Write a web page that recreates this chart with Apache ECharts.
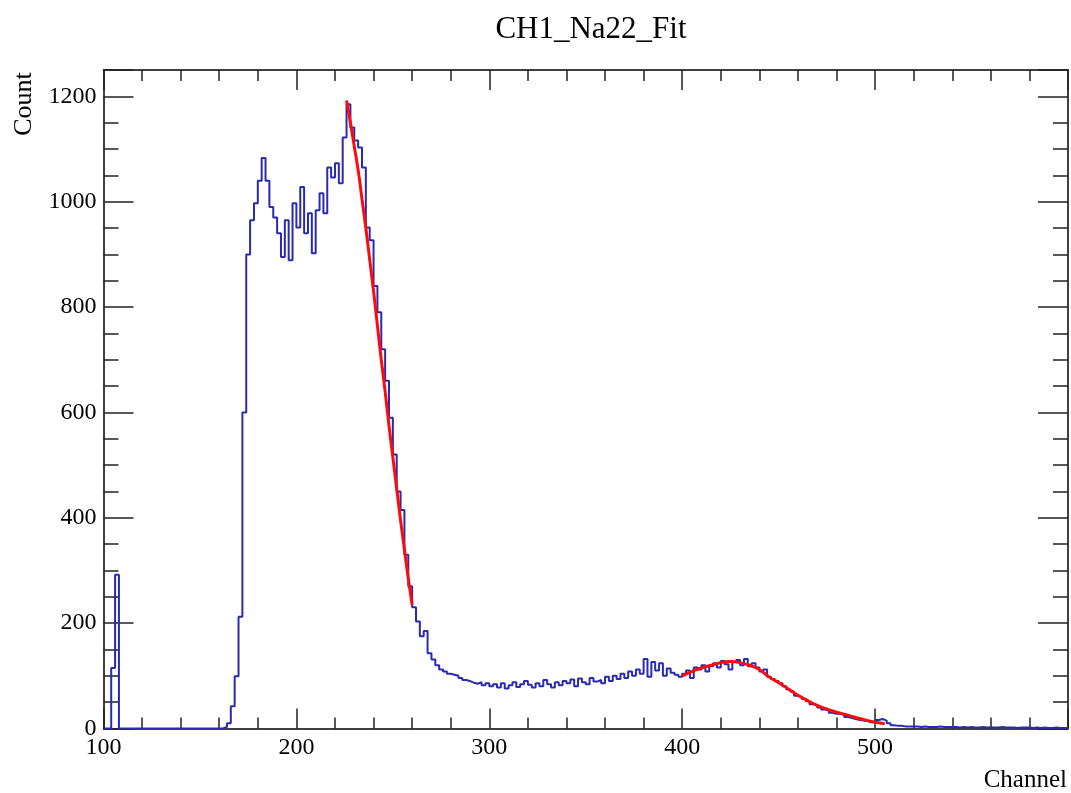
<!DOCTYPE html>
<html><head><meta charset="utf-8">
<script src="https://cdn.jsdelivr.net/npm/echarts@6/dist/echarts.min.js"></script>
<style>html,body{margin:0;padding:0;background:#fff}#c{width:1071px;height:793px}</style>
</head><body><div id="c"></div>
<script>
const titleText = 'CH1_Na22_Fit';
const xName = 'Channel';
const yName = 'Count';
const binStart = 100;
const binWidth = 2;
// histogram counts, one per 2-channel bin from 100 to 600
const counts = [
  0, 0, 115, 292, 0, 0, 0, 0, 0, 0,
  0, 0, 0, 0, 0, 0, 0, 0, 0, 0,
  0, 0, 0, 0, 0, 0, 0, 0, 0, 0,
  0, 3, 10, 42, 99, 212, 600, 900, 965, 997,
  1040, 1083, 1040, 990, 970, 940, 895, 965, 889, 997,
  951, 1028, 940, 978, 902, 984, 1016, 978, 1065, 1046,
  1073, 1035, 1122, 1185, 1141, 1116, 1103, 1065, 951, 927,
  840, 790, 720, 660, 590, 520, 450, 415, 330, 270,
  230, 203, 175, 185, 143, 131, 120, 112, 108, 104,
  102, 100, 96, 92, 90, 87, 85, 88, 82, 86,
  80, 84, 78, 86, 76, 82, 88, 79, 84, 90,
  83, 78, 86, 80, 92, 84, 78, 88, 82, 90,
  86, 93, 80, 95, 88, 84, 96, 89, 92, 86,
  98, 90, 100, 94, 104, 96, 108, 100, 112, 104,
  132, 98, 126, 110, 124, 100, 114, 106, 102, 98,
  104, 110, 96, 116, 112, 120, 108, 118, 124, 116,
  128, 122, 112, 126, 130, 120, 132, 118, 124, 116,
  108, 112, 98, 94, 90, 86, 80, 74, 70, 62,
  60, 56, 52, 46, 44, 40, 36, 34, 30, 28,
  28, 26, 22, 20, 18, 16, 15, 14, 12, 12,
  16, 18, 15, 10, 6, 5, 5, 4, 4, 4,
  4, 3, 4, 3, 3, 3, 4, 3, 3, 3,
  3, 2, 3, 2, 3, 2, 2, 3, 2, 2,
  2, 2, 3, 2, 2, 2, 1, 2, 2, 2,
  1, 2, 1, 2, 1, 1, 2, 1, 1, 1
];
// first fit (falling edge)
const fit1Ch  = [226, 228, 230, 232, 234, 236, 238, 240, 242, 244, 246, 248, 250, 252, 254, 256, 258, 260];
const fit1Val = [1192, 1150, 1105, 1060, 1005, 950, 890, 830, 765, 700, 640, 575, 515, 455, 395, 340, 285, 235];
// second fit (1275 keV region)
const fit2Ch  = [400, 405, 410, 415, 420, 425, 430, 435, 440, 445, 450, 455, 460, 465, 470, 475, 480, 485, 490, 495, 500, 505];
const fit2Val = [100, 108, 115, 120, 125, 127, 125, 120, 112, 98, 87, 75, 63, 53, 44, 37, 31, 26, 21, 16, 12, 9];

const xMin = 100, xMax = 600, xMajor = 100, xMinor = 20;
const yMin = 0, yMax = 1250, yMajor = 200, yMinor = 50, yLabelMax = 1200;

const FONT = 'Liberation Serif';
const histData = counts.map((c, i) => [binStart + binWidth * i, c]);
histData.push([binStart + binWidth * counts.length, counts[counts.length - 1]]);

const tickStyle = {color: '#222', width: 1.5};
function xAx(pos, labels) {
  return {
    type: 'value', position: pos, min: xMin, max: xMax, interval: xMajor,
    axisLine: {show: true, onZero: false, lineStyle: {color: '#000', width: 1.5}},
    axisTick: {show: true, inside: true, length: 20, lineStyle: tickStyle},
    minorTick: {show: true, splitNumber: xMajor / xMinor, length: 11, lineStyle: tickStyle},
    axisLabel: {show: labels, margin: 7, fontFamily: FONT, fontSize: 24, color: '#000',
      formatter: v => (v === xMax ? '' : String(v))},
    splitLine: {show: false}, minorSplitLine: {show: false}
  };
}
function yAx(pos, interval, len, labels, line) {
  return {
    type: 'value', position: pos, min: yMin, max: yMax, interval: interval,
    axisLine: {show: line, onZero: false, lineStyle: {color: '#000', width: 1.5}},
    axisTick: {show: true, inside: true, length: len, lineStyle: tickStyle},
    axisLabel: {show: labels, margin: 7, fontFamily: FONT, fontSize: 24, color: '#000',
      formatter: v => (v % yMajor === 0 && v <= yLabelMax ? String(v) : '')},
    splitLine: {show: false}
  };
}

const chart = echarts.init(document.getElementById('c'), null, {renderer: 'canvas'});
chart.setOption({
  animation: false,
  backgroundColor: '#fff',
  title: {text: titleText, left: 586, top: 9, textAlign: 'center',
    textStyle: {fontFamily: FONT, fontSize: 31, fontWeight: 'normal', color: '#000'}},
  grid: {left: 103.5, right: 2, top: 70, bottom: 64.5, containLabel: false},
  xAxis: [xAx('bottom', true), xAx('top', false)],
  yAxis: [
    yAx('left', yMajor, 30, true, true),
    yAx('left', yMinor, 15, false, false),
    yAx('right', yMajor, 30, false, true),
    yAx('right', yMinor, 15, false, false)
  ],
  graphic: [
    {type: 'text', x: 24, y: 104, rotation: Math.PI / 2,
      style: {text: yName, fontFamily: FONT, fontSize: 26, fill: '#000', align: 'center', verticalAlign: 'middle'}},
    {type: 'text', x: 1067, y: 793,
      style: {text: xName, fontFamily: FONT, fontSize: 25, fill: '#000', align: 'right', verticalAlign: 'bottom'}}
  ],
  series: [
    {type: 'line', name: 'hist', xAxisIndex: 0, yAxisIndex: 0, data: histData, step: 'end',
      symbol: 'none', lineStyle: {color: '#2a2ab0', width: 2}, z: 2},
    {type: 'line', name: 'fit1', xAxisIndex: 0, yAxisIndex: 0,
      data: fit1Ch.map((c, i) => [c, fit1Val[i]]), smooth: true, symbol: 'none',
      lineStyle: {color: '#ff0a0a', width: 3}, z: 3},
    {type: 'line', name: 'fit2', xAxisIndex: 0, yAxisIndex: 0,
      data: fit2Ch.map((c, i) => [c, fit2Val[i]]), smooth: true, symbol: 'none',
      lineStyle: {color: '#ff0a0a', width: 3}, z: 3}
  ]
});
</script>
</body></html>
